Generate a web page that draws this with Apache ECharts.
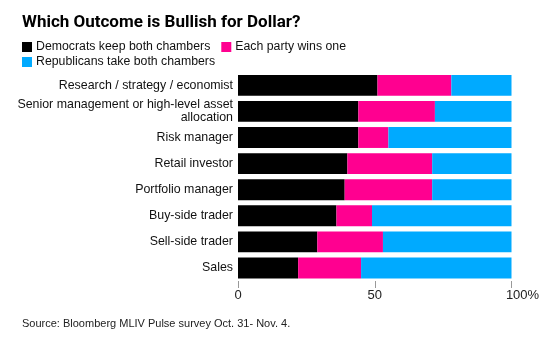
<!DOCTYPE html>
<html><head><meta charset="utf-8">
<script src="https://cdn.jsdelivr.net/npm/echarts@6/dist/echarts.min.js"></script>
<style>html,body{margin:0;padding:0;background:#fff}#c{width:560px;height:344px}</style>
</head><body><div id="c"></div>
<script>
const categories = [
  "Research / strategy / economist",
  "Senior management or high-level asset allocation",
  "Risk manager",
  "Retail investor",
  "Portfolio manager",
  "Buy-side trader",
  "Sell-side trader",
  "Sales"
];
const democrats = [51, 44, 44, 40, 39, 36, 29, 22];
const eachParty = [27, 28, 11, 31, 32, 13, 24, 23];
const republicans = [22, 28, 45, 29, 29, 51, 47, 55];
const seriesNames = ["Democrats keep both chambers", "Each party wins one", "Republicans take both chambers"];
const xTicks = [0, 50, 100];

const FONT = "Liberation Sans, Arial, sans-serif";
const colors = ["#000000", "#ff0090", "#00aaff"];
const chart = echarts.init(document.getElementById('c'), null, {renderer: 'canvas'});
const vals = [democrats, eachParty, republicans];
chart.setOption({
  animation: false,
  color: colors,
  title: {
    text: "Which Outcome is Bullish for Dollar?",
    left: 22, top: 14.5, padding: 0,
    textStyle: {fontFamily: "Roboto, Liberation Sans, sans-serif", fontSize: 17, fontWeight: 'bold', color: '#000'}
  },
  legend: [{
    data: [seriesNames[0], seriesNames[1]],
    left: 22, top: 41, padding: 0, icon: 'rect', itemWidth: 10, itemHeight: 10, itemGap: 11,
    textStyle: {fontFamily: FONT, fontSize: 12.3, color: '#111', padding: [0,0,0,-1]}
  }, {
    data: [seriesNames[2]],
    left: 22, top: 56, padding: 0, icon: 'rect', itemWidth: 10, itemHeight: 10,
    textStyle: {fontFamily: FONT, fontSize: 12.3, color: '#111', padding: [0,0,0,-1]}
  }],
  graphic: [{
    type: 'text', left: 22, top: 318,
    style: {text: "Source: Bloomberg MLIV Pulse survey Oct. 31- Nov. 4.", font: "11px " + FONT, fill: '#222'}
  }],
  grid: {left: 238, right: 48.5, top: 72.3, bottom: 63, containLabel: false},
  xAxis: {
    type: 'value', min: xTicks[0], max: xTicks[xTicks.length - 1], interval: 50,
    axisLine: {show: false},
    axisTick: {show: true, length: 7, lineStyle: {color: '#999'}},
    splitLine: {show: false},
    axisLabel: {
      fontFamily: FONT, fontSize: 13, color: '#222', margin: 8,
      formatter: v => v === 100 ? '{p|100%}' : String(v),
      rich: {p: {fontFamily: FONT, fontSize: 13, color: '#222', padding: [0,0,0,22]}}
    }
  },
  yAxis: {
    type: 'category', data: categories, inverse: true,
    axisLine: {show: false}, axisTick: {show: false},
    axisLabel: {
      fontFamily: FONT, fontSize: 12.4, color: '#111', margin: 5, lineHeight: 13,
      formatter: v => v.replace(" asset allocation", " asset\nallocation")
    }
  },
  series: seriesNames.map((n, i) => ({
    name: n, type: 'bar', stack: 'all', data: vals[i],
    barCategoryGap: '20%',
    itemStyle: {color: colors[i]}
  }))
});
</script></body></html>
